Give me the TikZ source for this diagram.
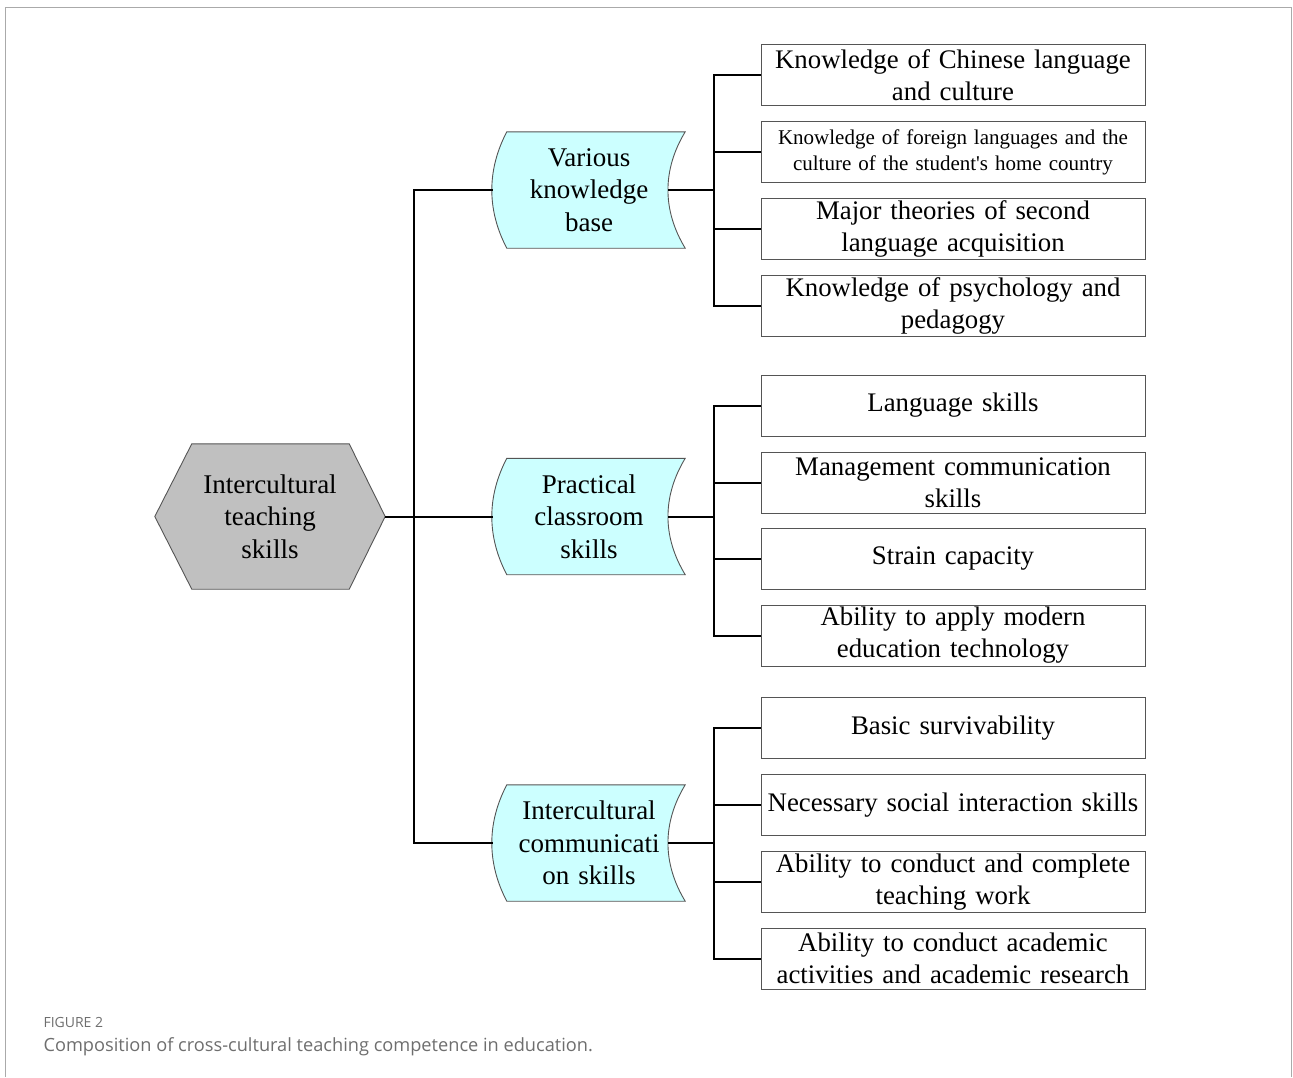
\documentclass[tikz,border=0pt]{standalone}
\usepackage{fontspec}
\setmainfont[WordSpace=0.85, Ligatures=TeXOff]{Liberation Serif}
\newfontfamily\capfont{Open Sans}
\usetikzlibrary{calc,backgrounds}
\definecolor{midfill}{RGB}{204,255,255}
\definecolor{hexfill}{RGB}{192,192,192}
\definecolor{edgegray}{RGB}{85,85,85}
\definecolor{framegray}{RGB}{170,170,170}
\definecolor{capgray}{RGB}{110,110,110}
\begin{document}
\begin{tikzpicture}[x=1pt,y=-1pt,
  leaf/.style={draw=edgegray, line width=1pt, fill=white, minimum width=384pt, minimum height=61pt,
    inner sep=0pt, text width=380pt, align=center, font=\fontsize{26.8}{32}\selectfont},
  smallleaf/.style={leaf, font=\fontsize{21}{26}\selectfont},
  midnode/.style={minimum width=192pt, minimum height=116pt, inner sep=0pt, text width=176pt,
    align=center, font=\fontsize{27}{32.5}\selectfont},
  hexnode/.style={minimum width=230pt, minimum height=145pt, inner sep=0pt, text width=200pt,
    align=center, font=\fontsize{27}{32.5}\selectfont},
  midline/.style={draw=edgegray, line width=0.9pt, fill=midfill},
  conn/.style={draw=black, line width=2pt},
  captitle/.style={anchor=base west, text=capgray, font=\capfont\fontsize{14}{16}\selectfont},
  captext/.style={anchor=base west, text=capgray, font=\capfont\fontsize{18.2}{22}\selectfont}]
\useasboundingbox (0,0) rectangle (1293,1077);
\draw[framegray, line width=1pt] (5,1077) -- (5,7) -- (1291,7) -- (1291,1077);

% root
\node[hexnode] (hex) at (270,516.5) {Intercultural\\teaching\\skills};
% middle level
\node[midnode] (m1) at (589,190) {Various\\knowledge\\base};
\node[midnode] (m2) at (589,516.5) {Practical\\classroom\\skills};
\node[midnode] (m3) at (589,843) {Intercultural\\communicati\\on skills};

\begin{pgfonlayer}{background}
\draw[draw=edgegray, line width=0.9pt, fill=hexfill] (hex.west) -- ([xshift=37pt]hex.north west) -- ([xshift=-36pt]hex.north east)
  -- (hex.east) -- ([xshift=-36pt]hex.south east) -- ([xshift=37pt]hex.south west) -- cycle;
\foreach \n in {m1,m2,m3}{
  \draw[midline] ([xshift=14pt]\n.north west) -- (\n.north east)
    .. controls ([xshift=-23pt,yshift=-38pt]\n.north east) and ([xshift=-23pt,yshift=38pt]\n.south east) .. (\n.south east)
    -- ([xshift=14pt]\n.south west)
    .. controls ([xshift=-6pt,yshift=38pt]\n.south west) and ([xshift=-6pt,yshift=-38pt]\n.north west) .. ([xshift=14pt]\n.north west) -- cycle;
}
\end{pgfonlayer}

\coordinate (m1e) at ([xshift=-17pt]m1.east);
\coordinate (m2e) at ([xshift=-17pt]m2.east);
\coordinate (m3e) at ([xshift=-17pt]m3.east);

% leaves
\node[leaf] (l1) at (953,75) {Knowledge of Chinese language\\and culture};
\node[smallleaf] (l2) at (953,152) {Knowledge of foreign languages and the\\culture of the student's home country};
\node[leaf] (l3) at (953,229) {Major theories of second\\language acquisition};
\node[leaf] (l4) at (953,305.5) {Knowledge of psychology and\\pedagogy};
\node[leaf] (l5) at (953,405.5) {Language skills};
\node[leaf] (l6) at (953,482.5) {Management communication\\skills};
\node[leaf] (l7) at (953,559) {Strain capacity};
\node[leaf] (l8) at (953,635.5) {Ability to apply modern\\education technology};
\node[leaf] (l9) at (953,728) {Basic survivability};
\node[leaf] (l10) at (953,805) {Necessary social interaction skills};
\node[leaf] (l11) at (953,882) {Ability to conduct and complete\\teaching work};
\node[leaf] (l12) at (953,958.5) {Ability to conduct academic\\activities and academic research};

% junctions
\coordinate (j0) at (414,516.5);
\coordinate (j1) at (714,190);
\coordinate (j2) at (714,516.5);
\coordinate (j3) at (714,843);

% connectors
\draw[conn] (hex.east) -- (m2.west);
\draw[conn] (m1.west) -| (j0) |- (m3.west);

\draw[conn] (m1e) -- (j1);
\draw[conn] (l1.west) -| (j1) |- (l4.west);
\draw[conn] (j1) |- (l2.west);
\draw[conn] (j1) |- (l3.west);

\draw[conn] (m2e) -- (j2);
\draw[conn] (l5.west) -| (j2) |- (l8.west);
\draw[conn] (j2) |- (l6.west);
\draw[conn] (j2) |- (l7.west);

\draw[conn] (m3e) -- (j3);
\draw[conn] (l9.west) -| (j3) |- (l12.west);
\draw[conn] (j3) |- (l10.west);
\draw[conn] (j3) |- (l11.west);

% caption
\node[captitle] (figlabel) at (40,1027) {FIGURE 2};
\node[captext] (figcap) at (40,1051) {Composition of cross-cultural teaching competence in education.};
\end{tikzpicture}
\end{document}
